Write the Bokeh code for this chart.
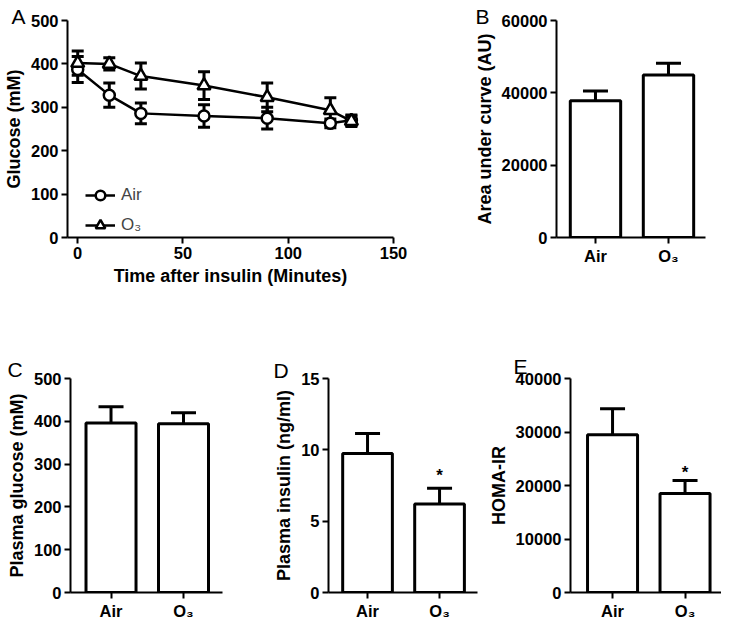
from bokeh.plotting import figure
from bokeh.models import (Range1d, FixedTicker, Whisker, TeeHead, ColumnDataSource,
                          Legend, LegendItem, Title)
from bokeh.layouts import row, column
from bokeh.embed import file_html
from bokeh.resources import INLINE
from bokeh.core.properties import value

# ---------------- data ----------------
time_min = [0, 15, 30, 60, 90, 120, 130]
air_glucose = [387, 328, 286, 280, 275, 263, 270]
air_glucose_sem = [30, 28, 24, 26, 25, 10, 12]
o3_glucose = [402, 400, 372, 350, 323, 293, 268]
o3_glucose_sem = [28, 14, 30, 32, 33, 29, 12]

groups = ["Air", "O\u2083"]
group_pos = [1, 2]
auc = [37800, 44900]
auc_sem = [2700, 3300]
plasma_glucose = [396, 394]
plasma_glucose_sem = [38, 26]
plasma_insulin = [9.75, 6.2]
plasma_insulin_sem = [1.4, 1.1]
homa_ir = [29500, 18500]
homa_ir_sem = [4850, 2450]
sig_insulin_y = [8.17]
sig_homa_y = [22480]

FONT = "Liberation Sans"


def make_fig(w, h, bl, br, bt, bb, xr, yr, yticks, ylabel):
    p = figure(width=w, height=h, x_range=Range1d(*xr), y_range=Range1d(*yr),
               output_backend="svg", toolbar_location=None,
               min_border_left=bl, min_border_right=br,
               min_border_top=bt, min_border_bottom=bb)
    p.outline_line_color = None
    p.grid.visible = False
    p.background_fill_color = "white"
    p.border_fill_color = "white"
    for ax in p.axis:
        ax.axis_line_width = 2
        ax.axis_line_color = "black"
        ax.major_tick_line_width = 2
        ax.major_tick_line_color = "black"
        ax.major_tick_in = 0
        ax.major_tick_out = 6
        ax.minor_tick_line_color = None
        ax.major_label_text_font = FONT
        ax.major_label_text_font_style = "bold"
        ax.major_label_text_font_size = "16.5px"
        ax.major_label_text_color = "black"
        ax.axis_label_text_font = FONT
        ax.axis_label_text_font_style = "bold"
        ax.axis_label_text_font_size = "18px"
        ax.axis_label_text_color = "black"
        ax.major_label_standoff = 3
        ax.axis_label_standoff = 4
    p.yaxis.ticker = FixedTicker(ticks=yticks)
    p.yaxis.axis_label = ylabel
    return p


def add_letter(p, offset, t, standoff):
    p.add_layout(Title(text=t, align="left", offset=offset, standoff=standoff,
                       vertical_align="bottom", text_font=FONT, text_font_size="21px",
                       text_font_style="normal", text_color="black"), "above")


def bar_panel(w, h, bl, br, bt, bb, xr, yr, yticks, ylabel, vals, sems, letter, loff,
              lstand, sig=None):
    p = make_fig(w, h, bl, br, bt, bb, xr, yr, yticks, ylabel)
    p.xaxis.ticker = FixedTicker(ticks=group_pos)
    p.xaxis.major_label_overrides = {pos: g for pos, g in zip(group_pos, groups)}
    src = ColumnDataSource(dict(x=group_pos, top=vals,
                                upper=[v + s for v, s in zip(vals, sems)]))
    p.add_layout(Whisker(base="x", lower="top", upper="upper", source=src,
                         line_width=3, line_color="black", lower_head=None,
                         upper_head=TeeHead(size=25, line_width=3, line_color="black")))
    p.vbar(x="x", top="top", bottom=0, width=0.69, source=src, fill_color="white",
           line_color="black", line_width=3)
    if sig is not None:
        p.text(x=[group_pos[1]], y=sig, text=["*"], text_font=value(FONT),
               text_font_style="bold", text_font_size="17px", text_align="center",
               text_baseline="middle", text_color="black")
    add_letter(p, loff, letter, lstand)
    return p


# ---------------- panel A ----------------
pa = make_fig(430, 300, 64, 37, 20, 63, (-4.85, 150), (0, 500),
              [0, 100, 200, 300, 400, 500], "Glucose (mM)")
pa.xaxis.ticker = FixedTicker(ticks=[0, 50, 100, 150])
pa.xaxis.axis_label = "Time after insulin (Minutes)"

air_src = ColumnDataSource(dict(t=time_min, m=air_glucose,
                                lo=[m - s for m, s in zip(air_glucose, air_glucose_sem)],
                                hi=[m + s for m, s in zip(air_glucose, air_glucose_sem)]))
o3_src = ColumnDataSource(dict(t=time_min, m=o3_glucose,
                               lo=[m - s for m, s in zip(o3_glucose, o3_glucose_sem)],
                               hi=[m + s for m, s in zip(o3_glucose, o3_glucose_sem)]))
for src in (air_src, o3_src):
    pa.add_layout(Whisker(base="t", lower="lo", upper="hi", source=src, level="underlay",
                          line_width=3, line_color="black",
                          upper_head=TeeHead(size=12, line_width=3, line_color="black"),
                          lower_head=TeeHead(size=12, line_width=3, line_color="black")))
air_line = pa.line("t", "m", source=air_src, line_color="black", line_width=2.5)
o3_line = pa.line("t", "m", source=o3_src, line_color="black", line_width=2.5)
air_pts = pa.scatter("t", "m", source=air_src, marker="circle", size=11,
                     fill_color="white", line_color="black", line_width=2.5)
o3_pts = pa.scatter("t", "m", source=o3_src, marker="triangle", size=13,
                    fill_color="white", line_color="black", line_width=2.5)
legend = Legend(items=[LegendItem(label="Air", renderers=[air_line, air_pts]),
                       LegendItem(label="O\u2083", renderers=[o3_line, o3_pts])],
                location=(18, 0), margin=0, padding=0, spacing=6,
                glyph_width=30, glyph_height=24, label_height=24, label_standoff=6,
                label_text_font=FONT, label_text_font_size="17px",
                border_line_color=None, background_fill_alpha=0)
pa.add_layout(legend)
add_letter(pa, -56, "A", -15)

# ---------------- panel B ----------------
pb = bar_panel(291, 300, 126, 16, 19, 62, (0.466, 2.507), (0, 60000),
               [0, 20000, 40000, 60000], "Area under curve (AU)",
               auc, auc_sem, "B", -81, -15)

# ---------------- panels C, D, E ----------------
pc = bar_panel(240, 322, 70, 18, 75, 28, (0.441, 2.538), (0, 500),
               [0, 100, 200, 300, 400, 500], "Plasma glucose (mM)",
               plasma_glucose, plasma_glucose_sem, "C", -63, -5)
pd_ = bar_panel(240, 322, 88, 3, 74, 28, (0.458, 2.527), (0, 15),
                [0, 5, 10, 15], "Plasma insulin (ng/ml)",
                plasma_insulin, plasma_insulin_sem, "D", -55, -7, sig=sig_insulin_y)
pe = bar_panel(241, 322, 90, 0, 78, 26, (0.42, 2.503), (0, 40000),
               [0, 10000, 20000, 30000, 40000], "HOMA-IR",
               homa_ir, homa_ir_sem, "E", -57, 1, sig=sig_homa_y)

layout = column(row(pa, pb), row(pc, pd_, pe))
open("out.html", "w").write(file_html(layout, INLINE))
